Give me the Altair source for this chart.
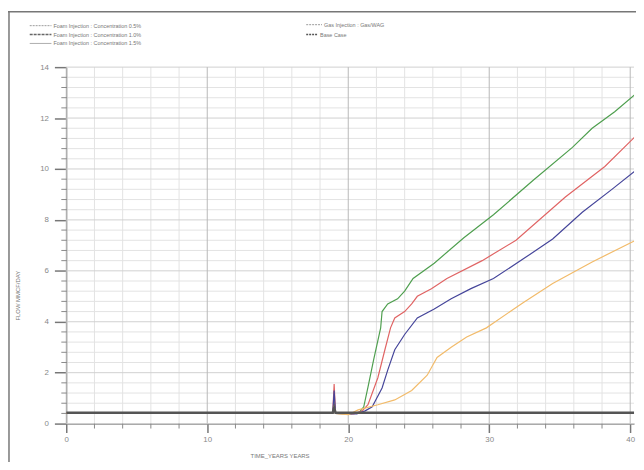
import altair as alt
import pandas as pd

# ---------------- data ----------------
series_names = [
    "Foam Injection : Concentration 0.5%",
    "Foam Injection : Concentration 1.0%",
    "Foam Injection : Concentration 1.5%",
    "Gas Injection : Gas/WAG",
    "Base Case",
]
series_colors = ["#4f9f4f", "#e06464", "#45459a", "#f2bb6a", "#555555"]

green_t = [0, 18.9, 19.0, 19.1, 20.2, 20.8, 21.1, 21.4, 21.8, 22.3, 22.4, 22.8, 23.5, 24.0, 24.6, 26.1,
           28.2, 30.3, 33.1, 35.9, 37.3, 38.9, 40.4]
green_v = [0.4, 0.4, 0.9, 0.4, 0.38, 0.45, 0.66, 1.43, 2.5, 3.76, 4.4, 4.7, 4.9, 5.2, 5.7, 6.3,
           7.3, 8.2, 9.55, 10.85, 11.6, 12.25, 12.95]

red_t = [0, 18.9, 19.0, 19.1, 20.4, 21.0, 21.4, 22.1, 22.6, 23.0, 23.3, 24.0, 24.5, 24.9, 25.9, 27.0,
         29.5, 31.9, 35.4, 38.2, 40.4]
red_v = [0.4, 0.4, 1.55, 0.4, 0.38, 0.5, 0.74, 1.8, 2.9, 3.76, 4.15, 4.4, 4.7, 5.0, 5.3, 5.7,
         6.4, 7.2, 8.9, 10.1, 11.3]

blue_t = [0, 18.9, 19.0, 19.1, 20.6, 21.2, 21.7, 22.4, 22.8, 23.3, 24.0, 24.9, 26.1, 27.3, 28.7, 30.3,
          32.5, 34.5, 36.6, 38.7, 40.4]
blue_v = [0.4, 0.4, 1.3, 0.4, 0.38, 0.5, 0.66, 1.4, 2.1, 2.9, 3.5, 4.15, 4.5, 4.9, 5.3, 5.7,
          6.5, 7.25, 8.3, 9.2, 9.95]

orange_t = [0, 18.9, 19.0, 19.1, 20.0, 20.7, 22.1, 23.3, 24.5, 25.6, 26.3, 27.3, 28.4, 29.8, 30.3,
            32.4, 34.5, 37.3, 40.4]
orange_v = [0.4, 0.4, 0.7, 0.4, 0.35, 0.54, 0.74, 0.93, 1.3, 1.9, 2.6, 3.0, 3.4, 3.76, 3.95,
            4.75, 5.5, 6.35, 7.2]

base_t = [0, 18.9, 19.0, 19.1, 40.4]
base_v = [0.43, 0.43, 0.62, 0.43, 0.43]

x_major = [0, 10, 20, 30, 40]
x_minor = [2, 4, 6, 8, 12, 14, 16, 18, 22, 24, 26, 28, 32, 34, 36, 38]
y_major = [0, 2, 4, 6, 8, 10, 12, 14]
y_minor = [0.4, 0.8, 1.2, 1.6, 2.4, 2.8, 3.2, 3.6, 4.4, 4.8, 5.2, 5.6, 6.4, 6.8, 7.2, 7.6,
           8.4, 8.8, 9.2, 9.6, 10.4, 10.8, 11.2, 11.6, 12.4, 12.8, 13.2, 13.6]

x_title = "TIME_YEARS   YEARS"
y_title = "FLOW   MMCF/DAY"

# ---------------- layout ----------------
W, H = 575, 361
xscale = alt.Scale(domain=[0, 40.27], nice=False, zero=False)
yscale = alt.Scale(domain=[0, 14], nice=False)

xaxis = alt.Axis(values=x_major, grid=False, tickSize=9, tickWidth=1.5, tickColor="#777",
                 domainColor="#888", domainWidth=1.2, labelFontSize=8, labelColor="#888",
                 labelPadding=3, labelFlush=False, title=x_title, titleFontSize=6,
                 titleFontWeight="normal", titleColor="#777", titleX=216, titleY=32,
                 titleBaseline="middle")
yaxis = alt.Axis(values=y_major, grid=False, tickSize=12, tickWidth=1.5, tickColor="#777",
                 domainColor="#888", domainWidth=1.2, labelFontSize=8, labelColor="#888",
                 labelPadding=6, title=y_title, titleFontSize=6, titleFontWeight="normal",
                 titleColor="#777", titleX=-49, titleY=231, titleAngle=270,
                 titleBaseline="middle", titleAlign="center")

X = alt.X("t:Q", scale=xscale, axis=xaxis)
Y = alt.Y("v:Q", scale=yscale, axis=yaxis)

rows = []
for name, ts, vs in zip(series_names[:4], [green_t, red_t, blue_t, orange_t],
                        [green_v, red_v, blue_v, orange_v]):
    for i, (t, v) in enumerate(zip(ts, vs)):
        rows.append({"series": name, "t": t, "v": v, "i": i})
curves = pd.DataFrame(rows)
base = pd.DataFrame({"series": series_names[4], "t": base_t, "v": base_v,
                     "i": list(range(len(base_t)))})

one = pd.DataFrame({"d": [0]})

gx_minor = alt.Chart(pd.DataFrame({"t": x_minor})).mark_rule(color="#e3e3e3", strokeWidth=1).encode(x=X)
gx_major = alt.Chart(pd.DataFrame({"t": x_major})).mark_rule(color="#b8b8b8", strokeWidth=1).encode(x=X)
gy_minor = alt.Chart(pd.DataFrame({"v": y_minor})).mark_rule(color="#e3e3e3", strokeWidth=1).encode(y=Y)
gy_major = alt.Chart(pd.DataFrame({"v": y_major})).mark_rule(color="#d0d0d0", strokeWidth=1).encode(y=Y)

tx_minor = alt.Chart(pd.DataFrame({"t": x_minor})).mark_rule(color="#888", strokeWidth=1).encode(
    x=X, y=alt.value(H), y2=alt.value(H + 5))
ty_minor = alt.Chart(pd.DataFrame({"v": y_minor})).mark_rule(color="#888", strokeWidth=1).encode(
    y=Y, x=alt.value(-5), x2=alt.value(1))

color_scale = alt.Scale(domain=series_names, range=series_colors)

lines = alt.Chart(curves).mark_line(strokeWidth=1.2, clip=True).encode(
    x=X, y=Y,
    color=alt.Color("series:N", scale=color_scale, legend=None),
    detail="series:N", order="i:Q")

base_line = alt.Chart(base).mark_line(strokeWidth=2.5, clip=True).encode(
    x=X, y=Y,
    color=alt.Color("series:N", scale=color_scale, legend=None),
    order="i:Q")

# ---------------- hand-made legend ----------------
leg_layers = []
leg_pos = [(-37, -42), (-37, -33), (-37, -24), (243, -43), (243, -33)]
leg_len = [22, 22, 22, 16, 12]
leg_style = [
    dict(color="#9a9a9a", strokeWidth=1, strokeDash=[2, 1]),
    dict(color="#666666", strokeWidth=1.5, strokeDash=[3, 1]),
    dict(color="#9a9a9a", strokeWidth=0.8),
    dict(color="#9a9a9a", strokeWidth=1, strokeDash=[2, 1]),
    dict(color="#555555", strokeWidth=1.5, strokeDash=[2, 1]),
]
for name, (lx, ly), ln, st in zip(series_names, leg_pos, leg_len, leg_style):
    leg_layers.append(alt.Chart(one).mark_rule(**st).encode(
        x=alt.value(lx), x2=alt.value(lx + ln), y=alt.value(ly)))
    leg_layers.append(alt.Chart(one).mark_text(align="left", baseline="middle", fontSize=5.5,
                                               color="#777").encode(
        x=alt.value(lx + ln + 2), y=alt.value(ly), text=alt.value(name)))

# frame
frame_top = alt.Chart(one).mark_rule(color="#777", strokeWidth=1.5).encode(
    x=alt.value(-59), x2=alt.value(W + 2), y=alt.value(-56))
frame_left = alt.Chart(one).mark_rule(color="#777", strokeWidth=1.5).encode(
    x=alt.value(-58), y=alt.value(-56), y2=alt.value(H + 40))

chart = alt.layer(
    gx_minor, gy_minor, gy_major, gx_major, tx_minor, ty_minor,
    lines, base_line, frame_top, frame_left, *leg_layers
).properties(
    width=W, height=H,
    autosize=alt.AutoSizeParams(type="none"),
    padding={"left": 59, "top": 57, "right": 2, "bottom": 36},
    background="white",
).configure_view(stroke=None)

chart.save("out.html", embed_options={"renderer": "svg", "actions": False})
